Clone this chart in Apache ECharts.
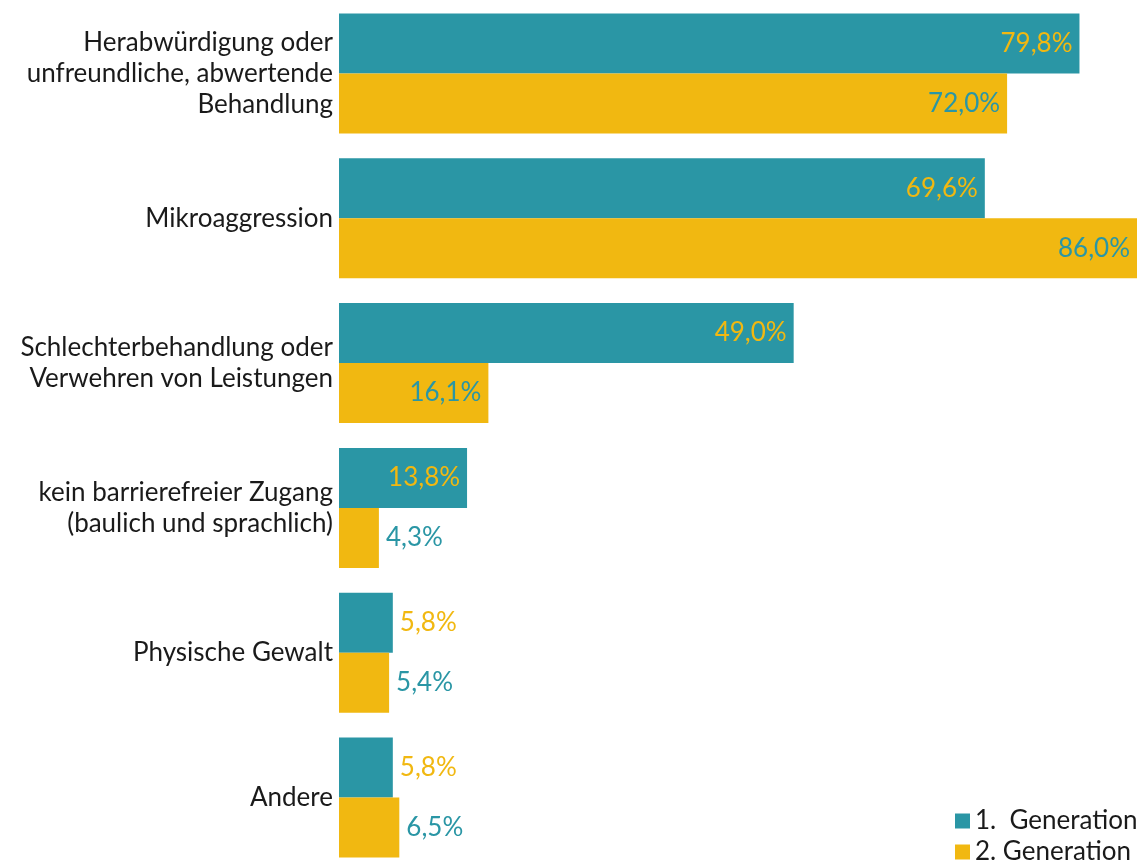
<!DOCTYPE html>
<html>
<head>
<meta charset="utf-8">
<script src="https://cdn.jsdelivr.net/npm/echarts@6/dist/echarts.min.js"></script>
<style>
  html, body { margin: 0; padding: 0; background: #fff; }
  #container { width: 1143px; height: 860px; }
</style>
</head>
<body>
<div id="container"></div>
<script>
let chart = echarts.init(document.getElementById('container'));

var categories = [
    'Herabwürdigung oder\nunfreundliche, abwertende\nBehandlung',
    'Mikroaggression',
    'Schlechterbehandlung oder\nVerwehren von Leistungen',
    'kein barrierefreier Zugang\n(baulich und sprachlich)',
    'Physische Gewalt',
    'Andere'
];
var seriesNames = ['1.  Generation', '2. Generation'];
var gen1 = [79.8, 69.6, 49.0, 13.8, 5.8, 5.8];
var gen2 = [72.0, 86.0, 16.1, 4.3, 5.4, 6.5];

var teal = '#2a96a5';
var yellow = '#f1b811';
var fontFamily = 'Lato, "Open Sans", sans-serif';

function fmt(v) {
    return v.toFixed(1).replace('.', ',') + '%';
}

// big bars get the label inside, small ones right next to the bar
function makeData(values, labelColor) {
    return values.map(v => ({
        value: v,
        label: {
            position: v >= 10 ? 'insideRight' : 'right',
            distance: 7,
            color: labelColor,
        },
    }));
}

var legendText = {
    fontSize: 26,
    color: '#1a1a1a',
    fontFamily: fontFamily,
};

// one legend per item so they stack even though the second runs off the bottom
let option = {
    animation: false,
    textStyle: { fontFamily: fontFamily },
    legend: [{
        data: [seriesNames[0]],
        left: 950,
        top: 803,
        icon: 'rect',
        itemWidth: 15,
        itemHeight: 15,
        textStyle: legendText,
    }, {
        data: [seriesNames[1]],
        left: 950,
        top: 834,
        icon: 'rect',
        itemWidth: 15,
        itemHeight: 15,
        textStyle: legendText,
    }],
    grid: {
        left: 339,
        right: 6,
        top: 1,
        height: 869,
        outerBoundsMode: 'none',
        containLabel: false,
    },
    xAxis: {
        type: 'value',
        min: 0,
        max: 86,
        show: false,
    },
    yAxis: {
        type: 'category',
        inverse: true,
        data: categories,
        axisLine: { show: false },
        axisTick: { show: false },
        axisLabel: {
            margin: 6,
            fontSize: 26,
            lineHeight: 31,
            color: '#1a1a1a',
            align: 'right',
            fontFamily: fontFamily,
        },
    },
    series: [{
            name: seriesNames[0],
            type: 'bar',
            barWidth: 60,
            barGap: 0,
            itemStyle: { color: teal },
            label: {
                show: true,
                fontSize: 26,
                fontFamily: fontFamily,
                formatter: p => fmt(p.value),
            },
            data: makeData(gen1, yellow),
        },
        {
            name: seriesNames[1],
            type: 'bar',
            barWidth: 60,
            barGap: 0,
            itemStyle: { color: yellow },
            label: {
                show: true,
                fontSize: 26,
                fontFamily: fontFamily,
                formatter: p => fmt(p.value),
            },
            data: makeData(gen2, teal),
        },
    ]
};

chart.setOption(option);
</script>
</body>
</html>
